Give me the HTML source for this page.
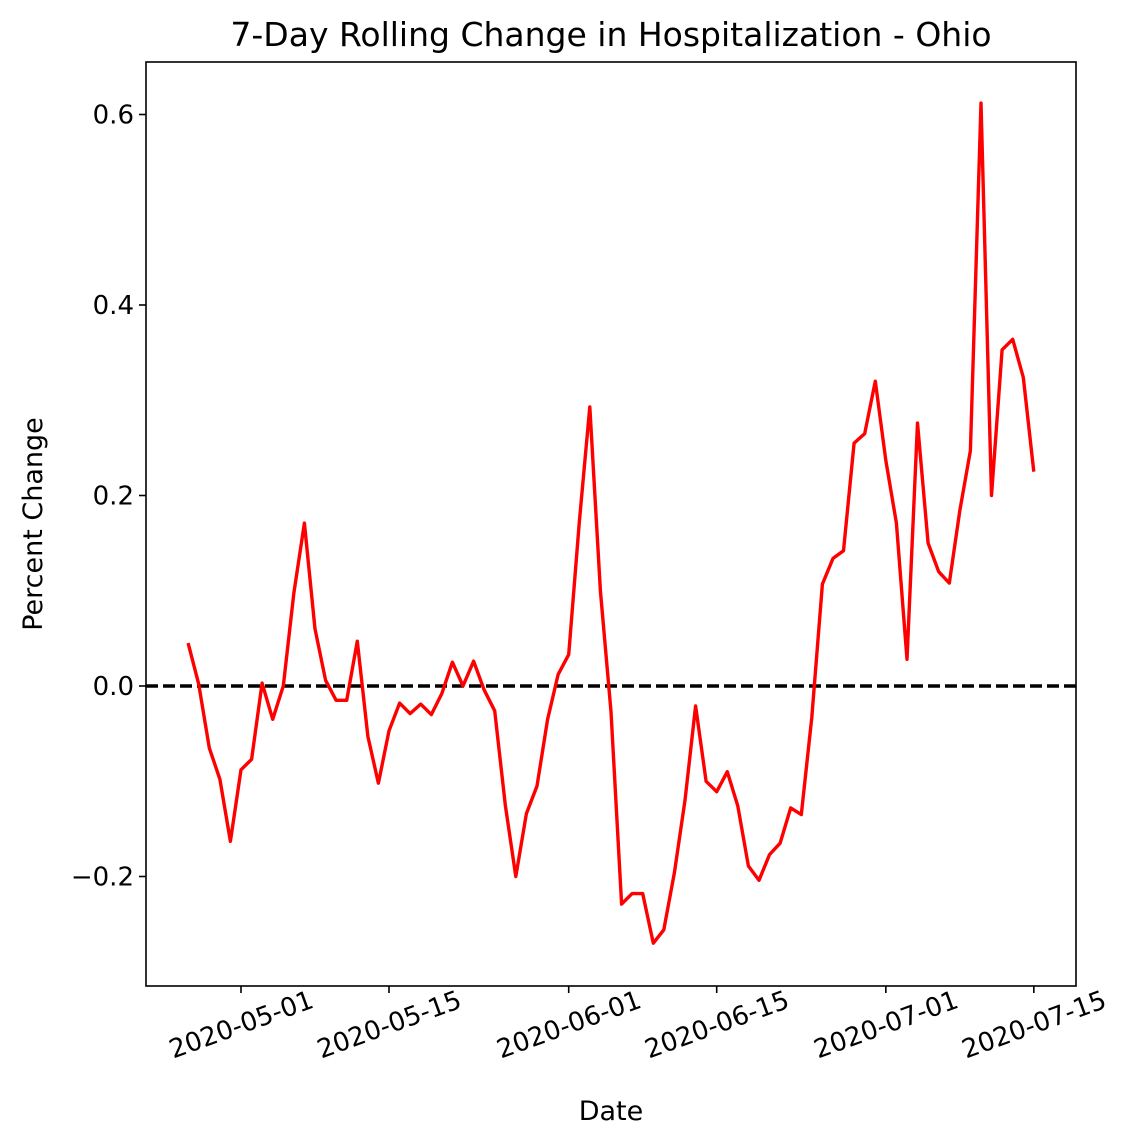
<!DOCTYPE html>
<html><head><meta charset="utf-8"><style>
html,body{margin:0;padding:0;background:#fff;}
svg{display:block;font-family:"DejaVu Sans","Liberation Sans",sans-serif;}
</style></head><body>
<svg id="chart" width="1134" height="1146" viewBox="0 0 1134 1146">
<text x="611" y="46" font-size="33" text-anchor="middle" fill="#000">7-Day Rolling Change in Hospitalization - Ohio</text>
<text x="611" y="1120" font-size="27" text-anchor="middle">Date</text>
<text transform="translate(42,524) rotate(-90)" font-size="27" text-anchor="middle">Percent Change</text>
<g id="grid"></g>
<rect x="146" y="62" width="930" height="924" fill="none" stroke="#000" stroke-width="1.6"/>
</svg>
<script>
const startDate = "2020-04-26";
const values = [0.045,0.002,-0.065,-0.098,-0.163,-0.088,-0.077,0.003,-0.035,0.0,0.098,0.171,0.06,0.006,-0.015,-0.015,0.047,-0.053,-0.102,-0.047,-0.018,-0.029,-0.019,-0.03,-0.008,0.025,0.0,0.026,-0.004,-0.026,-0.125,-0.2,-0.134,-0.105,-0.035,0.012,0.033,0.172,0.293,0.1,-0.027,-0.229,-0.218,-0.218,-0.27,-0.256,-0.196,-0.12,-0.021,-0.1,-0.111,-0.09,-0.126,-0.189,-0.204,-0.177,-0.165,-0.128,-0.135,-0.033,0.107,0.134,0.142,0.255,0.265,0.32,0.237,0.171,0.028,0.276,0.15,0.12,0.108,0.184,0.247,0.612,0.2,0.353,0.364,0.324,0.225];
const yTicks = [-0.2,0.0,0.2,0.4,0.6];
const yTickLabels = ["\u22120.2","0.0","0.2","0.4","0.6"];
const xTicks = ["2020-05-01","2020-05-15","2020-06-01","2020-06-15","2020-07-01","2020-07-15"];

const NS="http://www.w3.org/2000/svg";
const svg=document.getElementById('chart');
const g=document.getElementById('grid');
const DAY=86400000;
const t0=Date.parse("2020-05-01");
function xs(d){return 241+(Date.parse(d)-t0)/DAY*10.571;}
function xi(i){return xs(startDate)+i*10.571;}
function ys(v){return 686-v*952.5;}
function mk(tag,attrs){const e=document.createElementNS(NS,tag);for(const k in attrs)e.setAttribute(k,attrs[k]);g.appendChild(e);return e;}

yTicks.forEach((v,i)=>{
  const t=mk('line',{x1:139,x2:146,y1:ys(v),y2:ys(v),stroke:'#000','stroke-width':1.6});
  
  
  const l=mk('text',{x:134,y:ys(v)+9,'text-anchor':'end','font-size':26});
  
  
  l.textContent=yTickLabels[i];
});
xTicks.forEach(d=>{
  const x=xs(d);
  const t=mk('line',{x1:x,x2:x,y1:986,y2:993,stroke:'#000','stroke-width':1.6});
  
  
  const l=mk('text',{transform:`translate(${x},${1024}) rotate(-20)`,'text-anchor':'middle','font-size':26,dy:'0.36em'});
  
  
  l.textContent=d;
});
const z=mk('line',{x1:146,x2:1076,y1:ys(0),y2:ys(0),stroke:'#000','stroke-width':3.4,'stroke-dasharray':'12,5'});


const p=mk('polyline',{points:values.map((v,i)=>xi(i).toFixed(1)+','+ys(v).toFixed(1)).join(' '),fill:'none',stroke:'#ff0000','stroke-width':3.4,'stroke-linejoin':'round'});


</script>
</body></html>
